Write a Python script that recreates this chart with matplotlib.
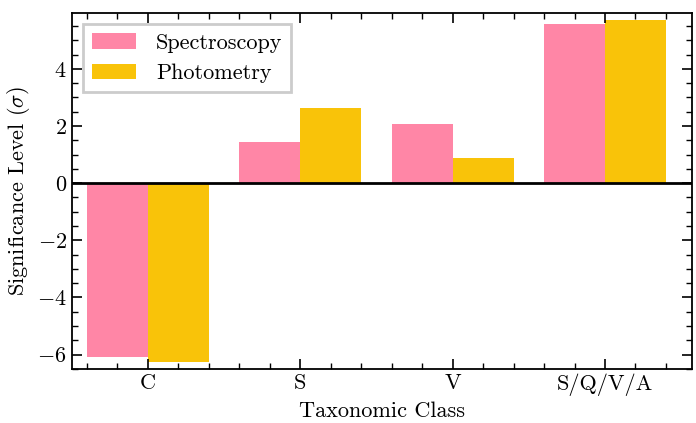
import matplotlib
matplotlib.use("Agg")
import matplotlib.pyplot as plt
import numpy as np
from matplotlib.ticker import MultipleLocator

plt.rcParams['font.family'] = 'serif'
plt.rcParams['font.serif'] = ['cmr10']
plt.rcParams['mathtext.fontset'] = 'cm'
plt.rcParams['axes.formatter.use_mathtext'] = True

classes = ['C', 'S', 'V', 'S/Q/V/A']
spectroscopy = [-6.09, 1.44, 2.07, 5.58]
photometry = [-6.25, 2.63, 0.88, 5.72]

x = np.arange(len(classes))
w = 0.4
fs = 16

fig, ax = plt.subplots(figsize=(6.96, 4.23), dpi=100)
ax.bar(x - w / 2, spectroscopy, w, color='#ff86a6', label='Spectroscopy')
ax.bar(x + w / 2, photometry, w, color='#f9c309', label='Photometry')
ax.axhline(0, color='black', lw=2)

ax.set_xticks(x)
ax.set_xticklabels(classes)
ax.xaxis.set_minor_locator(MultipleLocator(0.2))
ax.yaxis.set_minor_locator(MultipleLocator(0.5))
ax.tick_params(which='both', direction='in', top=True, right=True, labelsize=fs)
ax.tick_params(which='major', length=7, width=1.2)
ax.tick_params(which='minor', length=4, width=1)
for s in ax.spines.values():
    s.set_linewidth(1.3)

ax.set_xlim(-0.5, 3.57)
ax.set_ylim(-6.5, 5.95)
ax.set_xlabel('Taxonomic Class', fontsize=fs)
ax.set_ylabel(r'Significance Level ($\sigma$)', fontsize=fs)

leg = ax.legend(loc='upper left', fontsize=fs, fancybox=False, framealpha=1,
                handletextpad=0.9)
leg.get_frame().set_edgecolor('#cccccc')
leg.get_frame().set_linewidth(2)

fig.subplots_adjust(left=0.103, right=0.994, top=0.969, bottom=0.128)
fig.savefig('out.png')
